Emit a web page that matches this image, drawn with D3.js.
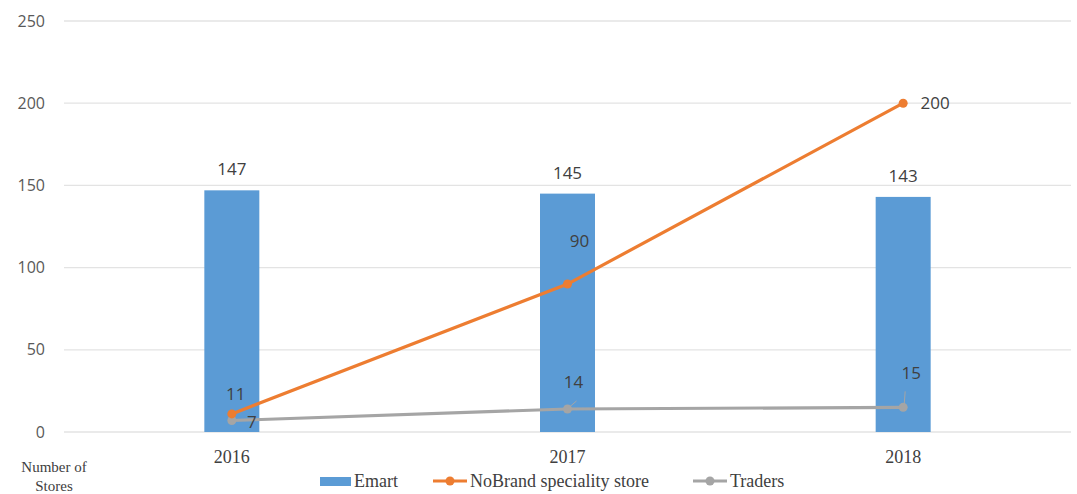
<!DOCTYPE html>
<html>
<head>
<meta charset="utf-8">
<script src="https://cdn.jsdelivr.net/npm/d3@7"></script>
<style>
  body { margin: 0; background: #fff; }
  svg { display: block; }
</style>
</head>
<body>
<div id="chart"></div>
<script>
// Chart data
const years = ["2016", "2017", "2018"];
const emart = [147, 145, 143];
const noBrand = [11, 90, 200];
const traders = [7, 14, 15];
const yTicks = [0, 50, 100, 150, 200, 250];

const width = 1077;
const height = 494;
const margin = { top: 21, right: 6, bottom: 62, left: 64 };

const svg = d3.select("#chart")
    .append("svg")
    .attr("width", width)
    .attr("height", height);

const xScale = d3.scaleBand()
    .domain(years)
    .range([margin.left, width - margin.right]);

const yScale = d3.scaleLinear()
    .domain([0, 250])
    .range([height - margin.bottom, margin.top]);

const cx = d => xScale(d) + xScale.bandwidth() / 2;
const sans = "Open Sans, Noto Sans, sans-serif";
const serif = "Liberation Serif, Times New Roman, DejaVu Serif, Noto Serif, Times, serif";

// Gridlines
svg.append("g")
    .selectAll("line")
    .data(yTicks)
    .join("line")
    .attr("x1", margin.left)
    .attr("x2", width - margin.right)
    .attr("y1", d => yScale(d))
    .attr("y2", d => yScale(d))
    .attr("stroke", "#e3e3e3")
    .attr("stroke-width", 1.3);

// Y axis labels
const yAxis = d3.axisLeft(yScale).tickValues(yTicks).tickSize(0).tickPadding(0);
const gy = svg.append("g")
    .attr("transform", `translate(${margin.left - 19}, 0)`)
    .call(yAxis)
    .attr("font-family", null);
gy.select(".domain").remove();
gy.selectAll("text")
    .style("font-family", sans)
    .style("font-size", "16px")
    .attr("fill", "#595959");

// X axis labels
const xAxis = d3.axisBottom(xScale).tickSize(0).tickPadding(0);
const gx = svg.append("g")
    .attr("transform", `translate(0, ${yScale(0) + 18})`)
    .call(xAxis)
    .attr("font-family", null);
gx.select(".domain").remove();
gx.selectAll("text")
    .style("font-family", serif)
    .style("font-size", "18px")
    .attr("fill", "#404040");

// Axis title
const title = svg.append("text")
    .attr("text-anchor", "middle")
    .style("font-family", serif)
    .style("font-size", "15px")
    .attr("fill", "#404040");
title.append("tspan").attr("x", 54).attr("y", 472).text("Number of");
title.append("tspan").attr("x", 54).attr("y", 491).text("Stores");

// Bars
const barW = 55;
svg.append("g")
    .selectAll("rect")
    .data(years)
    .join("rect")
    .attr("x", d => cx(d) - barW / 2)
    .attr("y", (d, i) => yScale(emart[i]))
    .attr("width", barW)
    .attr("height", (d, i) => yScale(0) - yScale(emart[i]))
    .attr("fill", "#5b9bd5");

svg.append("g")
    .selectAll("text")
    .data(years)
    .join("text")
    .attr("x", d => cx(d))
    .attr("y", (d, i) => yScale(emart[i]) - 15)
    .attr("text-anchor", "middle")
    .style("font-family", sans)
    .style("font-size", "17px")
    .attr("fill", "#404040")
    .text((d, i) => emart[i]);

// Lines
const line = d3.line().x(d => cx(d[0])).y(d => yScale(d[1]));
function drawSeries(values, color) {
    const pts = years.map((y, i) => [y, values[i]]);
    svg.append("path")
        .datum(pts)
        .attr("d", line)
        .attr("fill", "none")
        .attr("stroke", color)
        .attr("stroke-width", 3.2);
    svg.append("g")
        .selectAll("circle")
        .data(pts)
        .join("circle")
        .attr("cx", d => cx(d[0]))
        .attr("cy", d => yScale(d[1]))
        .attr("r", 4.5)
        .attr("fill", color);
}
drawSeries(traders, "#a5a5a5");
drawSeries(noBrand, "#ed7d31");

// Line labels: offsets relative to the point
const noBrandOffsets = [[4, -14], [12, -37], [32, 6]];
const tradersOffsets = [[20, 8], [6, -21], [8, -28]];
function drawLabels(values, offsets) {
    svg.append("g")
        .selectAll("text")
        .data(years)
        .join("text")
        .attr("x", (d, i) => cx(d) + offsets[i][0])
        .attr("y", (d, i) => yScale(values[i]) + offsets[i][1])
        .attr("text-anchor", "middle")
        .style("font-family", sans)
        .style("font-size", "17px")
        .attr("fill", "#404040")
        .text((d, i) => values[i]);
}
drawLabels(noBrand, noBrandOffsets);
drawLabels(traders, tradersOffsets);

// Leader lines for Traders labels
svg.append("line")
    .attr("x1", cx("2017") + 2).attr("y1", yScale(traders[1]) - 2)
    .attr("x2", cx("2017") + 9).attr("y2", yScale(traders[1]) - 8)
    .attr("stroke", "#a5a5a5").attr("stroke-width", 1);
svg.append("line")
    .attr("x1", cx("2018") + 1).attr("y1", yScale(traders[2]) - 2)
    .attr("x2", cx("2018") + 2).attr("y2", yScale(traders[2]) - 16)
    .attr("stroke", "#a5a5a5").attr("stroke-width", 1);

// Legend
const legend = svg.append("g")
    .style("font-family", serif)
    .style("font-size", "18px")
    .attr("fill", "#404040");
const ly = 481;
legend.append("rect")
    .attr("x", 320).attr("y", ly - 4).attr("width", 31).attr("height", 9)
    .attr("fill", "#5b9bd5");
legend.append("text").attr("x", 354).attr("y", ly + 6).text("Emart");

[[433, "#ed7d31", "NoBrand speciality store"], [693, "#a5a5a5", "Traders"]].forEach(([x, c, t]) => {
    legend.append("line")
        .attr("x1", x).attr("x2", x + 34)
        .attr("y1", ly).attr("y2", ly)
        .attr("stroke", c).attr("stroke-width", 3.2);
    legend.append("circle")
        .attr("cx", x + 17).attr("cy", ly).attr("r", 4.5)
        .attr("fill", c);
    legend.append("text").attr("x", x + 37).attr("y", ly + 6).text(t);
});
</script>
</body>
</html>
